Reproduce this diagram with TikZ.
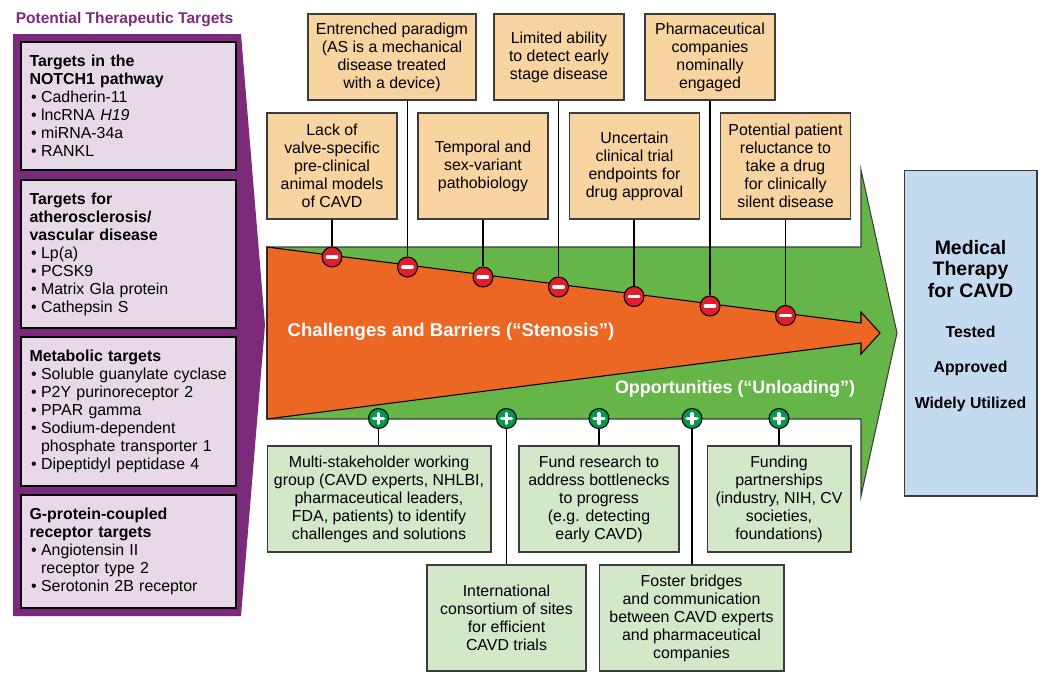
\documentclass[tikz,border=0pt]{standalone}
\usepackage{fontspec}
\setmainfont{Liberation Sans}

\definecolor{targetPurple}{HTML}{7B2A7C}
\definecolor{targetPale}{HTML}{E8D9E8}
\definecolor{barrierPeach}{HTML}{F8D4A0}
\definecolor{arrowGreen}{HTML}{66B548}
\definecolor{arrowOrange}{HTML}{EB6723}
\definecolor{chancePale}{HTML}{D2E8C8}
\definecolor{therapyBlue}{HTML}{C4DAEE}
\definecolor{signRed}{HTML}{E21E2B}
\definecolor{signGreen}{HTML}{009A4E}
\definecolor{edgeGrey}{HTML}{3C3C3C}

% Bullet with hanging space for the target lists.
\newcommand{\bul}{\makebox[6.6pt][l]{\hspace{0.9pt}•}}
\newcommand{\hangspace}{\hspace*{6.6pt}}
\newcommand{\nohyph}{\hyphenpenalty=10000\relax}

\tikzset{
    txt/.style={font=\fontsize{9.05pt}{10.25pt}\selectfont\nohyph, inner sep=0pt},
    targetbox/.style={txt, draw=black, line width=0.6pt, fill=targetPale, align=left, minimum width=4.3cm, text width=3.96cm},
    barrier/.style={txt, draw=edgeGrey, line width=0.6pt, fill=barrierPeach, align=center},
    chance/.style={txt, draw=edgeGrey, line width=0.6pt, fill=chancePale, align=center},
    wire/.style={line width=0.9pt, black},
    signminus/.style={circle, draw=black, line width=0.6pt, fill=signRed, minimum size=0.4cm, inner sep=0pt,
        path picture={\draw[white, line width=2.2pt, line cap=round] ([xshift=-0.09cm]path picture bounding box.center) -- ([xshift=0.09cm]path picture bounding box.center);}},
    signplus/.style={circle, draw=black, line width=0.6pt, fill=signGreen, minimum size=0.4cm, inner sep=0pt,
        path picture={\draw[white, line width=1.8pt, line cap=round] ([xshift=-0.1cm]path picture bounding box.center) -- ([xshift=0.1cm]path picture bounding box.center);
            \draw[white, line width=1.8pt, line cap=round] ([yshift=-0.1cm]path picture bounding box.center) -- ([yshift=0.1cm]path picture bounding box.center);}},
    heavy/.style={font=\fontsize{9pt}{10.25pt}\selectfont\bfseries, inner sep=0pt}
}

\begin{document}
\begin{tikzpicture}[x=0.02cm, y=-0.02cm]

    \useasboundingbox (0,0) rectangle (1050,684);

    %% Left column: purple pointer with the four target lists
    \node[heavy, text=targetPurple, font=\fontsize{8.85pt}{11pt}\selectfont\bfseries] (title) at (124.5, 20) {Potential Therapeutic Targets};
    \fill[targetPurple] (13,34) -- (241,34) -- (265,325) -- (241,616) -- (13,616) -- cycle;

    \node[targetbox, minimum height=2.56cm] (notch) at (128.5, 106) {\textbf{Targets in the}\\\textbf{NOTCH1 pathway}\\\bul Cadherin-11\\\bul lncRNA \textit{H19}\\\bul miRNA-34a\\\bul RANKL};
    \node[targetbox, minimum height=2.96cm] (athero) at (128.5, 254) {\textbf{Targets for}\\\textbf{atherosclerosis/}\\\textbf{vascular disease}\\\bul Lp(a)\\\bul PCSK9\\\bul Matrix Gla protein\\\bul Cathepsin S};
    \node[targetbox, minimum height=2.98cm] (metabolic) at (128.5, 411.5) {\textbf{Metabolic targets}\\\mbox{\bul Soluble guanylate cyclase}\\\bul P2Y purinoreceptor 2\\\bul PPAR gamma\\\bul Sodium-dependent\\\hangspace phosphate transporter 1\\\bul Dipeptidyl peptidase 4};
    \node[targetbox, minimum height=2.26cm] (gprotein) at (128.5, 551.5) {\textbf{G-protein-coupled}\\\textbf{receptor targets}\\\bul Angiotensin II\\\hangspace receptor type 2\\\bul Serotonin 2B receptor};

    %% Middle: green arrow with the orange one on top
    \draw[fill=arrowGreen, draw=edgeGrey, line width=0.6pt] (267,247) -- (861,247) -- (861,170) -- (897,333) -- (861,496) -- (861,419) -- (267,419) -- cycle;
    \draw[fill=arrowOrange, draw=black, line width=0.6pt] (267,247) -- (861,323) -- (861,312) -- (880,333) -- (861,354) -- (861,343) -- (267,419) -- cycle;
    \node[heavy, text=white, font=\fontsize{10.55pt}{11pt}\selectfont\bfseries] (stenosis) at (451, 332) {Challenges and Barriers (“Stenosis”)};
    \node[heavy, text=white, font=\fontsize{10.2pt}{11pt}\selectfont\bfseries] (unloading) at (735, 389) {Opportunities (“Unloading”)};

    %% Barriers, upper row
    \node[barrier, minimum width=3.36cm, minimum height=1.72cm] (paradigm) at (392, 57) {Entrenched paradigm\\(AS is a mechanical\\disease treated\\with a device)};
    \node[barrier, minimum width=2.6cm, minimum height=1.72cm] (ability) at (559, 57) {Limited ability\\to detect early\\stage disease};
    \node[barrier, minimum width=2.6cm, minimum height=1.72cm] (pharma) at (710, 57) {Pharmaceutical\\companies\\nominally\\engaged};

    %% Barriers, lower row
    \node[barrier, minimum width=2.6cm, minimum height=2.12cm] (models) at (332, 166) {Lack of\\valve-specific\\pre-clinical\\animal models\\of CAVD};
    \node[barrier, minimum width=2.6cm, minimum height=2.12cm] (temporal) at (483, 166) {Temporal and\\sex-variant\\pathobiology};
    \node[barrier, minimum width=2.6cm, minimum height=2.12cm] (endpoints) at (634.5, 166) {Uncertain\\clinical trial\\endpoints for\\drug approval};
    \node[barrier, minimum width=2.6cm, minimum height=2.12cm] (reluctance) at (785.5, 166) {Potential patient\\reluctance to\\take a drug\\for clinically\\silent disease};

    %% Opportunities, upper row
    \node[chance, minimum width=4.48cm, minimum height=2.12cm] (working) at (379, 499) {Multi-stakeholder working\\group (CAVD experts, NHLBI,\\pharmaceutical leaders,\\FDA, patients) to identify\\challenges and solutions};
    \node[chance, minimum width=3.2cm, minimum height=2.12cm] (research) at (599, 499) {Fund research to\\address bottlenecks\\to progress\\(e.g. detecting\\early CAVD)};
    \node[chance, minimum width=2.88cm, minimum height=2.12cm] (funding) at (779, 499) {Funding\\partnerships\\(industry, NIH, CV\\societies,\\foundations)};

    %% Opportunities, lower row
    \node[chance, minimum width=3.18cm, minimum height=2.12cm] (consortium) at (506.5, 618) {International\\consortium of sites\\for efficient\\CAVD trials};
    \node[chance, minimum width=3.7cm, minimum height=2.12cm] (bridges) at (691.5, 618) {Foster bridges\\and communication\\between CAVD experts\\and pharmaceutical\\companies};

    % minus signs on the orange edge
    \node[signminus] (m1) at (332, 257) {};
    \node[signminus] (m2) at (407.5, 267) {};
    \node[signminus] (m3) at (483, 277) {};
    \node[signminus] (m4) at (558.5, 287) {};
    \node[signminus] (m5) at (634, 296.5) {};
    \node[signminus] (m6) at (710, 306) {};
    \node[signminus] (m7) at (785.5, 315.5) {};

    % plus signs on the green edge
    \node[signplus] (p1) at (378.5, 418.5) {};
    \node[signplus] (p2) at (506.5, 418.5) {};
    \node[signplus] (p3) at (599, 418.5) {};
    \node[signplus] (p4) at (692, 418.5) {};
    \node[signplus] (p5) at (779, 418.5) {};

    \draw[wire] (m1) -- (m1 |- models.south);
    \draw[wire] (m2) -- (m2 |- paradigm.south);
    \draw[wire] (m3) -- (m3 |- temporal.south);
    \draw[wire] (m4) -- (m4 |- ability.south);
    \draw[wire] (m5) -- (m5 |- endpoints.south);
    \draw[wire] (m6) -- (m6 |- pharma.south);
    \draw[wire] (m7) -- (m7 |- reluctance.south);

    \draw[wire] (p1) -- (p1 |- working.north);
    \draw[wire] (p2) -- (p2 |- consortium.north);
    \draw[wire] (p3) -- (p3 |- research.north);
    \draw[wire] (p4) -- (p4 |- bridges.north);
    \draw[wire] (p5) -- (p5 |- funding.north);

    %% Right: outcome box
    \node[draw=edgeGrey, line width=0.6pt, fill=therapyBlue, minimum width=2.66cm, minimum height=6.52cm, inner sep=0pt] (therapy) at (970.5, 333) {};
    \node[heavy, font=\fontsize{11.1pt}{12.5pt}\selectfont\bfseries, align=center] (medical) at (970.5, 269) {Medical\\Therapy\\for CAVD};
    \node[heavy] (tested) at (970.5, 332) {Tested};
    \node[heavy] (approved) at (970.5, 368) {Approved};
    \node[heavy] (utilized) at (970.5, 404) {Widely Utilized};

\end{tikzpicture}
\end{document}
